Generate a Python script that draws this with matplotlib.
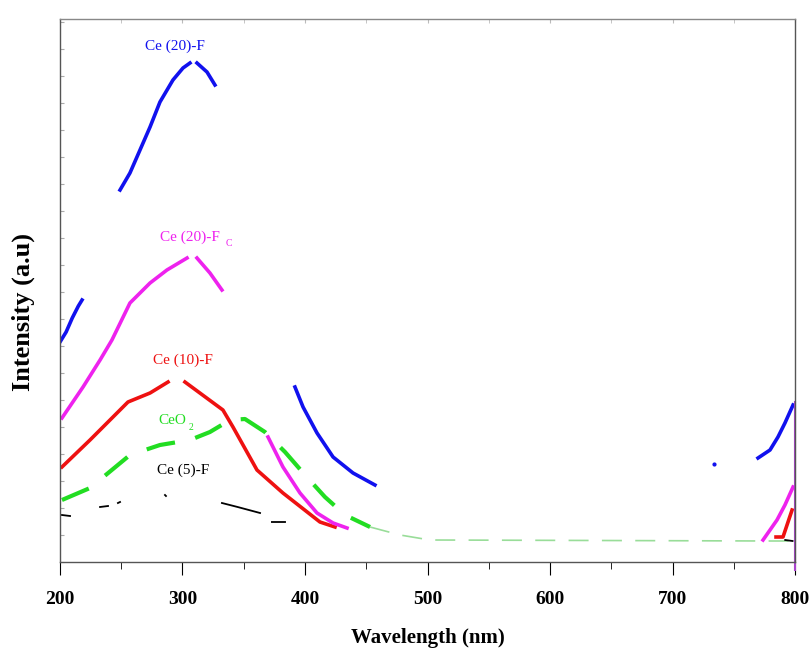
import numpy as np
import matplotlib
matplotlib.use("Agg")
import matplotlib.pyplot as plt

nan = np.nan

# Ce (20)-F  (blue)
blue_x = [200, 205, 210, 215, 218, nan,
          249.0, 257.1, 265.3, 273.5, 281.6, 292.2, 300.4, 306.1, nan, 311.8, 320.0, 326.5, nan,
          391.8, 398.4, 409.8, 422.9, 439.2, 457.1, nan,
          769.8, 779.6, 786.1, 791.8, 798.4]
blue_y = [220, 230, 244, 256, 262, nan,
          372, 389, 412, 435, 460, 482, 494, 499, nan, 499, 490, 477, nan,
          175, 155, 129, 105, 89, 77, nan,
          104, 112, 125, 139, 157]
blue_dot = (733.9, 98)

# Ce (20)-Fc (magenta)
mag_x = [201.6, 218.8, 232.7, 242.4, 257.1, 273.5, 287.3, 303.7, nan, 311.8, 322.4, 332.2, nan,
         369.8, 382.0, 395.9, 409.8, 422.9, 434.3, nan,
         773.9, 785.3, 791.8, 798.4]
mag_y = [144, 175, 202, 222, 259, 279, 292, 304, nan, 304, 289, 272, nan,
         125, 95, 69, 49, 39, 34, nan,
         22, 42, 57, 75]

# Ce (10)-F (red)
red_x = [201.6, 224.5, 255.5, 273.5, 288.2, nan,
         302.0, 333.0, 341.2, 360.8, 382.0, 412.2, 424.5, nan,
         784.5, 790.2, 797.6]
red_y = [95, 122, 160, 169, 180, nan,
         180, 152, 135, 92, 69, 40, 35, nan,
         25, 25, 52]

# CeO2 (green, dashed)
green_x = [201.6, 224.5, 257.1, 281.6, 306.1, 322.4, 338.8, 351.0, 367.3, 383.7,
           400.0, 416.3, 432.7, 453.1, 477.6, 502.0, 779.6, 800.0]
green_y = [62, 74, 107, 117, 122, 130, 142, 143, 130, 110,
           87, 65, 47, 35, 27, 22, 21, 21]

# Ce (5)-F (black, sparse)
black_x = [201.6, 208.2, nan, 232.7, 239.2, nan, 247.3, 249.0, nan, 285.7, 286.5, nan,
           332.2, 345.0, 363.3, nan, 373.0, 383.7, nan, 792.0, 798.0]
black_y = [47, 46, nan, 55, 56, nan, 59, 60, nan, 67, 66, nan,
           59, 55, 49, nan, 40, 40, nan, 22, 21]

x_ticks = [200, 300, 400, 500, 600, 700, 800]

serif = ['Liberation Serif', 'DejaVu Serif']
plt.rcParams['font.family'] = serif

fig = plt.figure(figsize=(8.11, 6.5), dpi=100)
ax = fig.add_axes([60/811, 1-562/650, (795-60)/811, (562-19)/650])

gx = np.array(green_x); gy = np.array(green_y)
thick = gx <= 455
ax.plot(gx[thick], gy[thick], color='#22dd22', lw=3.0, dashes=(7, 5))
ax.plot(gx[13:], gy[13:], color='#99dd99', lw=1.2, dashes=(12, 8))
ax.plot(black_x, black_y, color='black', lw=1.3)
ax.plot(red_x, red_y, color='#ee1111', lw=2.6)
ax.plot(mag_x, mag_y, color='#ee22ee', lw=2.6)
ax.plot(blue_x, blue_y, color='#1111ee', lw=2.6)
ax.plot([blue_dot[0]], [blue_dot[1]], 'o', color='#1111ee', ms=2)
ax.plot([800, 800], [-8, 160], color='#aa44cc', lw=1.5, clip_on=False)

ax.set_xlim(200, 800)
ax.set_ylim(0, 543)
ax.set_xticks(x_ticks)
ax.set_xticks(np.arange(250, 800, 100), minor=True)
ax.set_yticks(np.arange(0, 543, 27))
ax.tick_params(axis='y', which='both', direction='in', length=3, labelleft=False, color='#aaaaaa')
ax.tick_params(axis='x', which='major', direction='out', length=9, labelsize=14, pad=12)
ax.tick_params(axis='x', which='minor', direction='out', length=5)
sec = ax.secondary_xaxis('top')
sec.set_xticks(x_ticks)
sec.set_xticks(np.arange(250, 800, 100), minor=True)
sec.tick_params(which='both', direction='in', length=3, color='#bbbbbb', labeltop=False)
sec.spines['top'].set_visible(False)
for lab in ax.get_xticklabels():
    lab.set_fontweight('bold')
for s in ax.spines.values():
    s.set_color('#555555')
    s.set_linewidth(1.0)
ax.spines['top'].set_color('#888888')

ax.set_xlabel('Wavelength (nm)', fontsize=15, fontweight='bold', labelpad=14)
ax.set_ylabel('Intensity (a.u)', fontsize=19, fontweight='bold')
ax.yaxis.set_label_coords(-0.034, 0.46)

fs = 11
ax.text(293.9, 516, 'Ce (20)-F', color='#1111ee', fontsize=fs, ha='center', va='center')
ax.text(306, 325, 'Ce (20)-F', color='#ee22ee', fontsize=fs, ha='center', va='center')
ax.text(338, 319, 'C', color='#ee22ee', fontsize=7, ha='center', va='center')
ax.text(300.4, 202, 'Ce (10)-F', color='#ee1111', fontsize=fs, ha='center', va='center')
ax.text(292, 142, 'CeO', color='#22dd22', fontsize=fs, ha='center', va='center')
ax.text(307, 135, '2', color='#22dd22', fontsize=7, ha='center', va='center')
ax.text(300.4, 92, 'Ce (5)-F', color='black', fontsize=fs, ha='center', va='center')

fig.savefig('out.png', dpi=100)
